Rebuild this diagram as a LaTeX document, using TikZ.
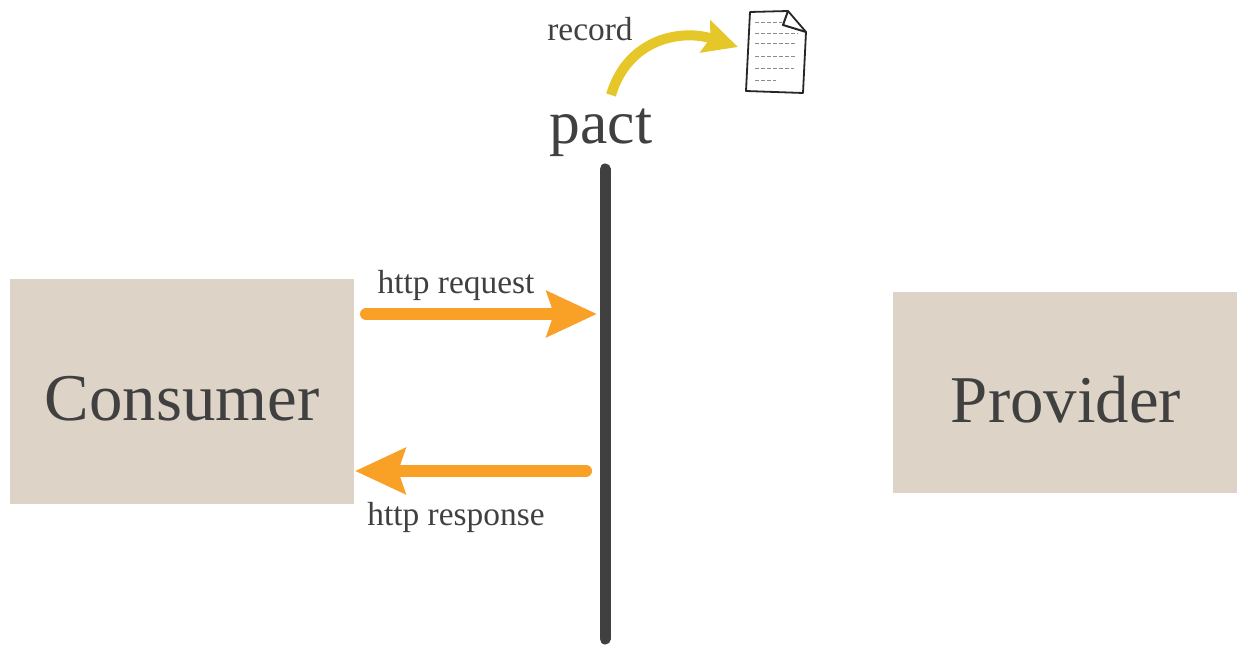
\documentclass[tikz,border=0pt]{standalone}
\usepackage{fontspec}
\usepackage{xcolor}
\setmainfont{Liberation Serif}
\usetikzlibrary{arrows.meta}
\definecolor{boxtan}{HTML}{DDD4C7}
\definecolor{inkgrey}{HTML}{404040}
\definecolor{arroworange}{HTML}{F9A026}
\definecolor{arrowyellow}{HTML}{E6C72A}
\tikzset{
	partybox/.style={fill=boxtan, inner sep=0pt},
	partylabel/.style={text=inkgrey, font=\fontsize{19}{19}\selectfont, inner sep=0pt},
	msglabel/.style={text=inkgrey, font=\fontsize{9.5}{10}\selectfont, inner sep=0pt},
	msgarrow/.style={draw=arroworange, line width=0.12cm, line cap=round, -{Stealth[length=0.5cm, width=0.45cm, inset=0.07cm, fill=arroworange]}},
}

\begin{document}
\begin{tikzpicture}[x=0.01cm, y=-0.01cm]
	\useasboundingbox (0, 0) rectangle (1248, 658);
	\node[partybox, minimum width=3.44cm, minimum height=2.25cm] (consumer) at (182, 391.5) {};
	\node[partybox, minimum width=3.44cm, minimum height=2.01cm] (provider) at (1065, 392.5) {};
	\node[partylabel] (consumerlabel) at (182, 399) {Consumer};
	\node[partylabel] (providerlabel) at (1066, 400) {Provider};
	\coordinate (bartop) at (605, 169);
	\coordinate (barbot) at (605, 639);
	\draw [inkgrey, line width=0.11cm, line cap=round] (bartop) -- (barbot);
	\node[text=inkgrey, font=\fontsize{17.5}{18}\selectfont, inner sep=0pt] (pact) at (601, 133) {pact};
	\node[msglabel] (record) at (590, 29) {record};
	\node[msglabel] (reqlabel) at (456, 285) {http request};
	\node[msglabel] (resplabel) at (456, 517) {http response};
	\coordinate (reqstart) at (366, 314);
	\coordinate (reqend) at (597, 314);
	\coordinate (respstart) at (586, 471);
	\coordinate (respend) at (355, 471);
	\draw [msgarrow] (reqstart) -- (reqend);
	\draw [msgarrow] (respstart) -- (respend);
	% record arrow
	\coordinate (recstart) at (611, 95);
	\coordinate (rectip) at (738, 47);
	\draw [arrowyellow, line width=0.1cm, -{Stealth[length=0.34cm, width=0.33cm, inset=0.05cm, fill=arrowyellow]}]
		(recstart) .. controls (628, 38) and (682, 29) .. (rectip);
	% page icon
	\draw [black!85, line width=0.018cm, line join=round, fill=white]
		(750, 12) -- (788, 11) -- (806, 32) -- (803, 93) -- (746, 91) -- cycle;
	\draw [black!85, line width=0.02cm, line join=round] (788, 11) -- (783, 25) -- (806, 32);
	\foreach \y/\xend in {23/782, 34/798, 44/796, 57/797, 69/794, 81/776}
		\draw [black!45, line width=0.01cm, dash pattern=on 0.04cm off 0.02cm] (755, \y) -- (\xend, \y);
\end{tikzpicture}
\end{document}
